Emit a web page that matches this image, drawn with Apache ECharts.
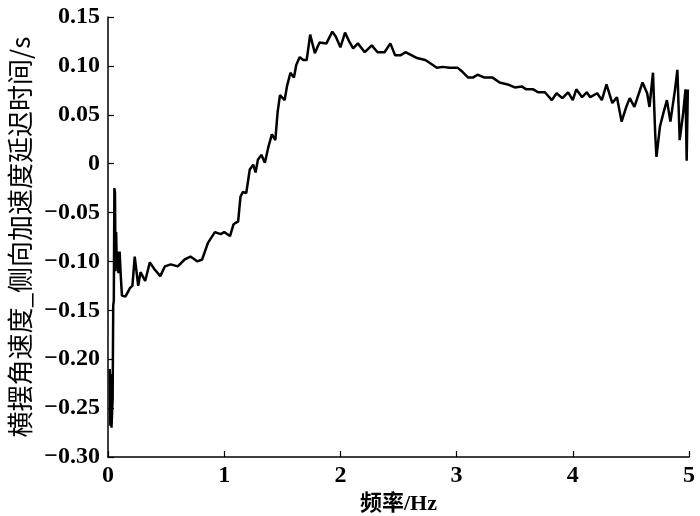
<!DOCTYPE html>
<html>
<head>
<meta charset="utf-8">
<script src="https://cdn.jsdelivr.net/npm/echarts@6/dist/echarts.min.js"></script>
<style>html,body{margin:0;padding:0;background:#fff;}#c{width:700px;height:516px;}</style>
</head>
<body>
<div id="c"></div>
<script>
const xTicks = [0, 1, 2, 3, 4, 5];
const yTicks = [-0.30, -0.25, -0.20, -0.15, -0.10, -0.05, 0, 0.05, 0.10, 0.15];
const freq = [0.015,0.02,0.025,0.03,0.04,0.045,0.05,0.055,0.06,0.065,0.07,0.075,0.08,0.09,0.1,0.11,0.12,0.15,0.19,0.21,0.23,0.26,0.28,0.32,0.36,0.4,0.45,0.49,0.54,0.6,0.66,0.71,0.77,0.81,0.86,0.92,0.97,1.0,1.05,1.08,1.12,1.14,1.16,1.19,1.22,1.25,1.27,1.29,1.32,1.35,1.38,1.41,1.44,1.46,1.48,1.52,1.54,1.57,1.6,1.62,1.65,1.68,1.71,1.74,1.78,1.82,1.88,1.93,1.96,2.0,2.04,2.08,2.11,2.15,2.21,2.27,2.32,2.38,2.43,2.47,2.52,2.56,2.61,2.66,2.73,2.77,2.83,2.88,2.94,3.01,3.05,3.1,3.14,3.18,3.24,3.31,3.37,3.44,3.5,3.56,3.6,3.66,3.7,3.76,3.82,3.86,3.91,3.96,4.0,4.03,4.08,4.12,4.15,4.21,4.25,4.29,4.34,4.38,4.42,4.46,4.49,4.53,4.6,4.64,4.66,4.69,4.71,4.72,4.75,4.78,4.81,4.84,4.88,4.9,4.92,4.95,4.97,4.98,4.99];
const delay = [-0.21,-0.268,-0.215,-0.27,-0.24,-0.145,-0.14,-0.025,-0.03,-0.11,-0.07,-0.1,-0.09,-0.112,-0.09,-0.115,-0.135,-0.136,-0.127,-0.125,-0.095,-0.125,-0.111,-0.12,-0.101,-0.108,-0.115,-0.105,-0.103,-0.105,-0.098,-0.095,-0.1,-0.098,-0.081,-0.07,-0.072,-0.07,-0.074,-0.062,-0.059,-0.034,-0.029,-0.03,-0.006,-0.001,-0.009,0.004,0.009,0.001,0.017,0.03,0.024,0.053,0.07,0.065,0.079,0.093,0.088,0.101,0.109,0.106,0.106,0.132,0.113,0.124,0.123,0.135,0.13,0.119,0.134,0.124,0.118,0.123,0.114,0.121,0.114,0.114,0.123,0.111,0.111,0.114,0.111,0.108,0.106,0.103,0.098,0.099,0.098,0.098,0.094,0.088,0.088,0.091,0.088,0.088,0.083,0.081,0.078,0.079,0.076,0.076,0.073,0.073,0.065,0.072,0.067,0.073,0.065,0.076,0.068,0.073,0.068,0.072,0.065,0.081,0.062,0.068,0.043,0.058,0.067,0.058,0.083,0.072,0.058,0.093,0.028,0.007,0.038,0.052,0.065,0.043,0.076,0.096,0.024,0.052,0.076,0.003,0.076];
const xName = '频率/Hz';
const yName = '横摆角速度_侧向加速度延迟时间/s';

const chart = echarts.init(document.getElementById('c'), null, {renderer: 'canvas'});
const labelFont = {fontFamily: 'Liberation Serif', fontSize: 24, fontWeight: 'bold', color: '#000'};
const fmtY = v => {
  const r = Math.round(v * 100) / 100;
  if (r === 0) return '0';
  return (r < 0 ? '\u2212' : '') + Math.abs(r).toFixed(2);
};
chart.setOption({
  animation: false,
  backgroundColor: '#fff',
  grid: {left: 108, right: 11, top: 17, bottom: 59, containLabel: false, outerBoundsMode: 'none'},
  xAxis: {
    type: 'value', min: xTicks[0], max: xTicks[xTicks.length - 1], interval: 1,
    name: xName, nameLocation: 'middle', nameGap: 30,
    nameTextStyle: {fontFamily: 'Liberation Serif, Noto Sans CJK SC', fontSize: 22, fontWeight: 'bold', color: '#000'},
    axisLine: {show: true, onZero: false, lineStyle: {color: '#000', width: 1.5}},
    axisTick: {show: true, inside: true, length: 6, lineStyle: {color: '#000', width: 1.2}},
    axisLabel: Object.assign({margin: 7}, labelFont),
    splitLine: {show: false}
  },
  yAxis: {
    type: 'value', min: yTicks[0], max: yTicks[yTicks.length - 1], interval: 0.05,
    name: yName, nameLocation: 'middle', nameGap: 74, nameRotate: 90,
    nameTextStyle: {fontFamily: 'Noto Sans CJK SC', fontSize: 26, color: '#000'},
    axisLine: {show: true, onZero: false, lineStyle: {color: '#000', width: 1.5}},
    axisTick: {show: true, inside: true, length: 6, lineStyle: {color: '#000', width: 1.2}},
    axisLabel: Object.assign({margin: 8, formatter: fmtY}, labelFont),
    splitLine: {show: false}
  },
  series: [{
    type: 'line',
    data: freq.map((f, i) => [f, delay[i]]),
    showSymbol: false,
    lineStyle: {color: '#000', width: 2.5},
    clip: true
  }]
});
</script>
</body>
</html>
